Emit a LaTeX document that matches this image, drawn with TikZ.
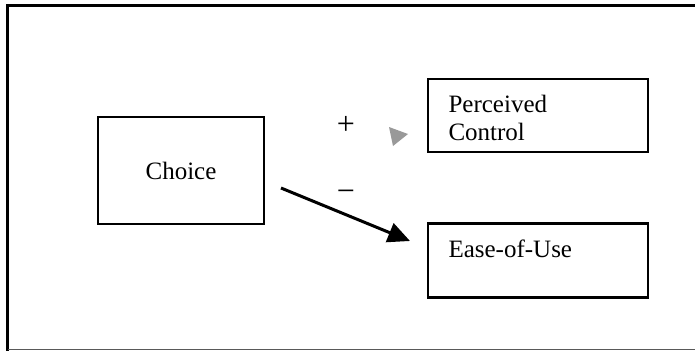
\documentclass[tikz,border=0pt]{standalone}
\usepackage{fontspec}
\setmainfont{Liberation Serif}
\usetikzlibrary{arrows.meta}
\begin{document}
\begin{tikzpicture}[x=1pt,y=-1pt,
  boxnode/.style={draw,line width=2.3pt,inner sep=0pt},
  lbl/.style={font=\fontsize{25}{28}\selectfont},
  sign/.style={font=\fontsize{32}{34}\selectfont,inner sep=0pt}]
\useasboundingbox (0,0) rectangle (695,351);
% outer frame (right side open)
\draw[line width=2.2pt] (695,5.5) -- (7.5,5.5) -- (7.5,351);
\draw[line width=1.5pt,black!65] (7.5,349.5) -- (695,349.5);
% boxes
\node[boxnode,minimum width=166pt,minimum height=107pt] (choice) at (181,170.5) {};
\node[lbl] (choicet) at (181,170.5) {Choice};
\node[boxnode,minimum width=220pt,minimum height=73pt] (pc) at (538,115.5) {};
\node[lbl,anchor=base west] (pct) at (445,112) {Perceived};
\node[lbl,anchor=base west] (pct2) at (445,140) {Control};
\node[boxnode,minimum width=220pt,minimum height=74pt] (eou) at (538,260.5) {};
\node[lbl,anchor=base west] (eout) at (445,257) {Ease-of-Use};
% signs
\node[sign] (plus) at (346,125.5) {+};
\node[sign] (minus) at (346,196) {−};
% faint arrowhead towards Perceived Control
\fill[black!40] (389,127) -- (408,134) -- (393,146) -- cycle;
% arrow to Ease-of-Use
\coordinate (a) at (281,188);
\coordinate (b) at (410,241);
\draw[line width=3pt,-{Triangle[length=22pt,width=20pt]}] (a) -- (b);
\end{tikzpicture}
\end{document}
